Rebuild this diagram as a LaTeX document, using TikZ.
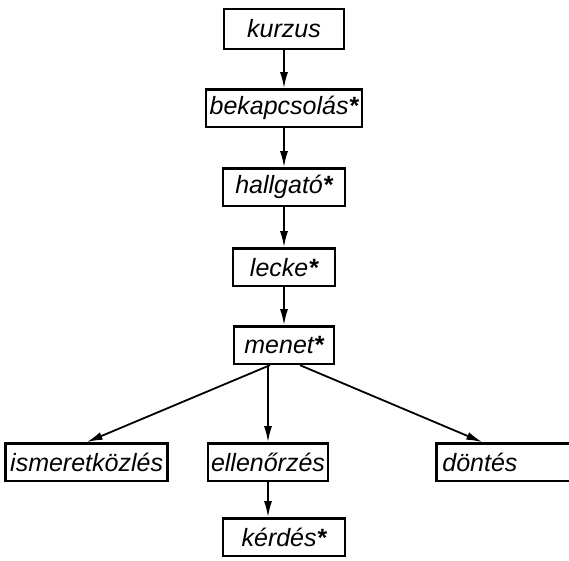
\documentclass[tikz,border=0pt]{standalone}
\usepackage{fontspec}
\setmainfont{Liberation Sans}
\usetikzlibrary{arrows.meta,positioning}
\newcommand{\csill}{{\bfseries *}}

\begin{document}
\begin{tikzpicture}[
  box/.style = {draw, line width=1.2pt, minimum height=18.8pt, inner xsep=1.5pt, inner ysep=1pt, align=center, font=\fontsize{12.5}{14}\selectfont\itshape},
  arrow/.style = {line width=0.9pt, -{Latex[length=8pt, width=4pt]}}
  ]

\useasboundingbox (0,0) rectangle (284.5pt,-280.5pt);

% Main chain
\node[box, minimum width=60pt, minimum height=20pt] (kurzus) at (142pt,-14.5pt) {kurzus};
\node[box, minimum width=78pt, below=19pt of kurzus] (bekapcsolas) {bekapcsolás\csill};
\node[box, minimum width=61pt, below=19.5pt of bekapcsolas] (hallgato) {hallgató\csill};
\node[box, minimum width=51pt, below=20pt of hallgato] (lecke) {lecke\csill};
\node[box, minimum width=50pt, below=19pt of lecke] (menet) {menet\csill};

% Bottom layer
\node[box, minimum width=57pt, below=38.5pt of menet, xshift=-8pt] (ellenorzes) {ellenőrzés};
\node[box, minimum width=81pt, left=19pt of ellenorzes] (ismeretkozles) {ismeretközlés};
\node[box, text width=64pt, inner xsep=3pt, align=left, right=53pt of ellenorzes] (dontes) {döntés};
\node[box, minimum width=61pt, below=17.5pt of ellenorzes, xshift=8pt] (kerdes) {kérdés\csill};

% Draw arrows
\draw[arrow] (kurzus.south) -- (bekapcsolas.north);
\draw[arrow] (bekapcsolas.south) -- (hallgato.north);
\draw[arrow] (hallgato.south) -- (lecke.north);
\draw[arrow] (lecke.south) -- (menet.north);

\draw[arrow] ([xshift=-7pt]menet.south) -- (ismeretkozles.north);
\draw[arrow] (ellenorzes.north |- menet.south) -- (ellenorzes.north);
\draw[arrow] ([xshift=8pt]menet.south) -- ([xshift=-12pt]dontes.north);
\draw[arrow] (ellenorzes.south) -- (ellenorzes.south |- kerdes.north);
\end{tikzpicture}
\end{document}
